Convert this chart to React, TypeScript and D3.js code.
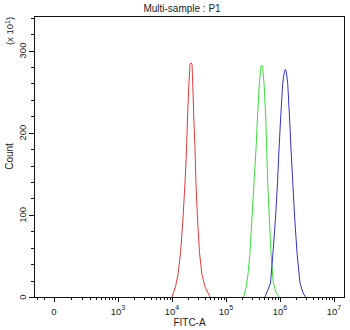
import * as d3 from 'd3';

// FITC-A histogram points (channel value, count in units of 10)
const redFitc = [10000, 11600, 12900, 14400, 16000, 17400, 18600, 19400, 20600, 21500, 22500, 23500, 24200, 25300, 26700, 27800, 29600, 32300, 35900, 40800, 50600];
const redCount = [0, 12.5, 27, 54, 96, 139, 179, 219, 260, 283, 285, 283, 260, 219, 179, 139, 96, 54, 27, 12.5, 0];

const greenFitc = [211000, 234000, 255000, 278000, 303000, 330000, 359000, 383000, 414000, 445000, 460000, 478000, 506000, 544000, 567000, 592000, 634000, 681000, 751000, 843000, 957000];
const greenCount = [0, 11, 27, 54, 96, 139, 179, 219, 260, 280, 282, 280, 260, 219, 179, 139, 96, 54, 17, 6, 0];

const blueFitc = [527000, 600000, 667000, 742000, 826000, 899000, 958000, 1030000, 1122000, 1202000, 1254000, 1308000, 1389000, 1500000, 1600000, 1727000, 1872000, 2064000, 2345000, 2665000, 2965000];
const blueCount = [0, 9, 17, 54, 96, 139, 179, 219, 260, 274, 277, 274, 260, 219, 179, 139, 96, 54, 17, 5, 0];

const majorX = [0, 1e3, 1e4, 1e5, 1e6, 1e7];
const majorXLabels = ['0', '3', '4', '5', '6', '7'];
const minorXLow = [-100, -50, 100, 200, 300, 400, 500, 600, 700, 800, 900];
const majorY = [0, 100, 200, 300];

const W = 350;
const H = 330;
const m = { left: 34, right: 344, top: 16, bottom: 297 };

// biexponential-style axis: symlog below 10^3, log above
const xLow = d3.scaleSymlog().constant(120).domain([-121, 1000]).range([m.left, 118]);
const xHigh = d3.scaleLog().domain([1000, 1e7]).range([118, 334]);
const x = (v: number) => (v < 1000 ? xLow(v) : xHigh(v));

const y = d3.scaleLinear().domain([0, 342]).range([m.bottom, m.top]);

const series = [
  { fitc: redFitc, count: redCount, color: '#e03a3a' },
  { fitc: greenFitc, count: greenCount, color: '#3cdc3c' },
  { fitc: blueFitc, count: blueCount, color: '#3232c6' },
];

const minorX: number[] = [...minorXLow];
for (let d = 3; d <= 6; d++) {
  for (let k = 2; k <= 9; k++) minorX.push(k * 10 ** d);
}
const minorY = d3.range(0, 342, 20).filter(v => v % 100 !== 0);

const font = '"Liberation Sans", Arial, sans-serif';

export default function App() {
  const line = d3.line<[number, number]>().x(d => x(d[0])).y(d => y(d[1]));

  return (
    <svg width={W} height={H} style={{ position: 'absolute', left: 0, top: 0, background: '#fff' }} fontFamily={font}>
      <rect x={0} y={0} width={W} height={H} fill="#fff" />
      <text x={182} y={11.5} fontSize={10} textAnchor="middle" fill="#222">Multi-sample : P1</text>

      {series.map((s, i) => (
        <path
          key={i}
          d={line(s.fitc.map((f, j) => [f, s.count[j]] as [number, number]))!}
          fill="none"
          stroke={s.color}
          strokeWidth={1}
          strokeLinejoin="round"
        />
      ))}

      <rect
        x={m.left + 0.5}
        y={m.top + 0.5}
        width={m.right - m.left}
        height={m.bottom - m.top}
        fill="none"
        stroke="#111"
        strokeWidth={1}
        shapeRendering="crispEdges"
      />

      {/* y axis ticks */}
      <g stroke="#111" shapeRendering="crispEdges">
        {majorY.map(v => (
          <line key={v} x1={m.left - 5} x2={m.left} y1={Math.round(y(v)) + 0.5} y2={Math.round(y(v)) + 0.5} />
        ))}
        {minorY.map(v => (
          <line key={v} x1={m.left - 3} x2={m.left} y1={Math.round(y(v)) + 0.5} y2={Math.round(y(v)) + 0.5} />
        ))}
      </g>
      {majorY.map(v => (
        <text key={v} transform={`translate(26,${y(v)}) rotate(-90)`} fontSize={9.5} textAnchor="middle" fill="#222">
          {v}
        </text>
      ))}
      <text transform="translate(13,31) rotate(-90)" fontSize={9.5} textAnchor="middle" fill="#222">
        (x 10<tspan dy={-3.5} fontSize={7}>1</tspan><tspan dy={3.5}>)</tspan>
      </text>
      <text transform={`translate(13,${(m.top + m.bottom) / 2}) rotate(-90)`} fontSize={10} textAnchor="middle" fill="#222">
        Count
      </text>

      {/* x axis ticks */}
      <g stroke="#111" shapeRendering="crispEdges">
        {majorX.map(v => (
          <line key={v} x1={Math.round(x(v)) + 0.5} x2={Math.round(x(v)) + 0.5} y1={m.bottom} y2={m.bottom + 5} />
        ))}
        {minorX.map(v => (
          <line key={v} x1={Math.round(x(v)) + 0.5} x2={Math.round(x(v)) + 0.5} y1={m.bottom} y2={m.bottom + 3} />
        ))}
      </g>
      {majorX.map((v, i) =>
        v === 0 ? (
          <text key={v} x={x(v)} y={315} fontSize={9.5} textAnchor="middle" fill="#222">0</text>
        ) : (
          <text key={v} x={x(v)} y={315} fontSize={9.5} textAnchor="middle" fill="#222">
            10<tspan dy={-5} fontSize={7}>{majorXLabels[i]}</tspan>
          </text>
        )
      )}
      <text x={189.5} y={326} fontSize={10} textAnchor="middle" fill="#222">FITC-A</text>
    </svg>
  );
}
